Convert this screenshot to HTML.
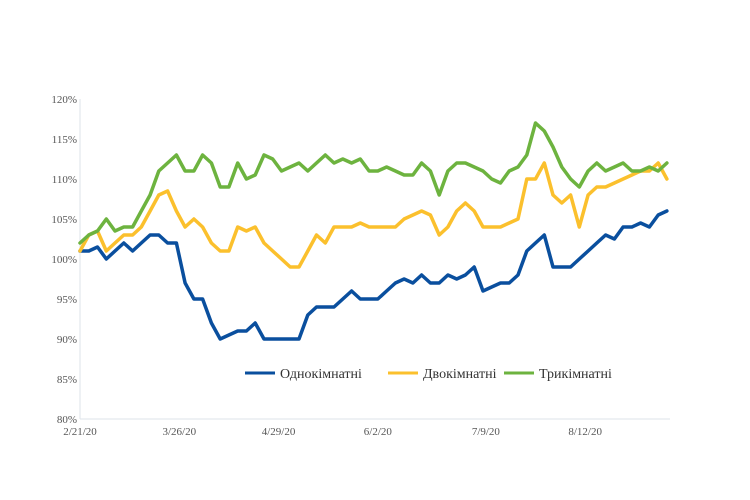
<!DOCTYPE html>
<html><head><meta charset="utf-8"><style>
body{margin:0;background:#fff}
svg{display:block;font-family:"Liberation Serif",serif}
</style></head><body>
<svg width="750" height="500" id="c"></svg>
<script>
const xLabels=["2/21/20","3/26/20","4/29/20","6/2/20","7/9/20","8/12/20"];
const xLabelDays=[0,34,68,102,139,173];
const yTicks=[80,85,90,95,100,105,110,115,120];
const stepDays=3;
const oneRoom=[101,101,101.5,100,101,102,101,102,103,103,102,102,97,95,95,92,90,90.5,91,91,92,90,90,90,90,90,93,94,94,94,95,96,95,95,95,96,97,97.5,97,98,97,97,98,97.5,98,99,96,96.5,97,97,98,101,102,103,99,99,99,100,101,102,103,102.5,104,104,104.5,104,105.5,106];
const twoRoom=[101,103,103.5,101,102,103,103,104,106,108,108.5,106,104,105,104,102,101,101,104,103.5,104,102,101,100,99,99,101,103,102,104,104,104,104.5,104,104,104,104,105,105.5,106,105.5,103,104,106,107,106,104,104,104,104.5,105,110,110,112,108,107,108,104,108,109,109,109.5,110,110.5,111,111,112,110];
const threeRoom=[102,103,103.5,105,103.5,104,104,106,108,111,112,113,111,111,113,112,109,109,112,110,110.5,113,112.5,111,111.5,112,111,112,113,112,112.5,112,112.5,111,111,111.5,111,110.5,110.5,112,111,108,111,112,112,111.5,111,110,109.5,111,111.5,113,117,116,114,111.5,110,109,111,112,111,111.5,112,111,111,111.5,111,112];
const seriesNames=["Однокімнатні","Двокімнатні","Трикімнатні"];
const colors=["#0a4f9e","#fbc02d","#6db33f"];

const NS="http://www.w3.org/2000/svg";
const svg=document.getElementById('c');
const x0=80,pxPerDay=2.92,yTop=99,yBot=419;
const xs=d=>x0+d*pxPerDay;
const ys=v=>yBot-(v-80)/40*(yBot-yTop);
function mk(t,a){const e=document.createElementNS(NS,t);for(const k in a)e.setAttribute(k,a[k]);svg.appendChild(e);return e;}

let ax=mk('line',{x1:x0,y1:yTop,x2:x0,y2:yBot,stroke:'#dde3ea','stroke-width':1});


let bx=mk('line',{x1:x0,y1:yBot,x2:670,y2:yBot,stroke:'#dde3ea','stroke-width':1});



yTicks.forEach(v=>{
  const t=mk('text',{x:77,y:ys(v)+4,'text-anchor':'end','font-size':11,fill:'#555'});
  t.textContent=v+'%';
  
  
});
xLabels.forEach((l,i)=>{
  const t=mk('text',{x:xs(xLabelDays[i]),y:435,'text-anchor':'middle','font-size':11,fill:'#555'});
  t.textContent=l;
  
  
});

[oneRoom,twoRoom,threeRoom].forEach((s,k)=>{
  const pts=s.map((v,i)=>xs(i*stepDays).toFixed(1)+','+ys(v).toFixed(1)).join(' ');
  const p=mk('polyline',{points:pts,fill:'none',stroke:colors[k],'stroke-width':3.5,'stroke-linejoin':'round','stroke-linecap':'round'});
  
  
});

const legX=[245,388,504];
seriesNames.forEach((n,k)=>{
  const l=mk('line',{x1:legX[k],y1:373,x2:legX[k]+30,y2:373,stroke:colors[k],'stroke-width':3});
  
  
  const t=mk('text',{x:legX[k]+35,y:378,'font-size':14,fill:'#333'});
  t.textContent=n;
  
  
});
</script>
</body></html>
